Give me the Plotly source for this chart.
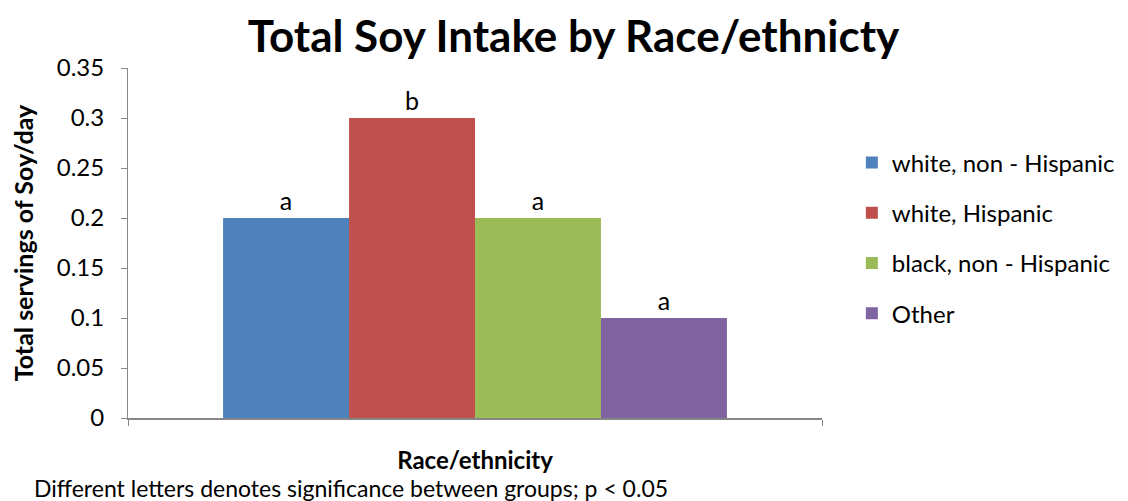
import plotly.graph_objects as go

categories = ["Race/ethnicity"]
groups = ["white, non - Hispanic", "white, Hispanic", "black, non - Hispanic", "Other"]
values = [0.2, 0.3, 0.2, 0.1]
letters = ["a", "b", "a", "a"]
colors = ["#4F81BD", "#C0504D", "#9BBB59", "#8064A2"]
y_ticks = [0, 0.05, 0.1, 0.15, 0.2, 0.25, 0.3, 0.35]
y_tick_labels = ["0", "0.05", "0.1", "0.15", "0.2", "0.25", "0.3", "0.35"]

FONT = "Lato, Carlito, 'Open Sans', sans-serif"

fig = go.Figure()
for i, g in enumerate(groups):
    fig.add_trace(go.Bar(
        x=categories, y=[values[i]], name=g,
        marker=dict(color=colors[i], line=dict(width=0)),
        text=[letters[i]], textposition="outside",
        textfont=dict(size=25, color="black", family=FONT),
        cliponaxis=False, legendgroup=g,
    ))

# page has an 8px body margin, so the figure is sized 8px smaller
fig.update_layout(
    width=1120, height=493,
    margin=dict(l=120, r=306, t=60, b=83, autoexpand=False),
    paper_bgcolor="white", plot_bgcolor="white",
    font=dict(family=FONT, color="black"),
    barmode="group", bargap=0.274, bargroupgap=0,
    title=dict(text="<b>Total Soy Intake by Race/ethnicty</b>",
               font=dict(size=44, family=FONT, color="black"),
               x=0.505, xanchor="center", y=0.941, yanchor="middle"),
    showlegend=True,
    legend=dict(x=1.043, xanchor="left", y=0.793, yanchor="top",
                font=dict(size=24, family=FONT, color="black"),
                tracegroupgap=16, itemwidth=30,
                bgcolor="rgba(0,0,0,0)"),
    xaxis=dict(showticklabels=False, showline=True, linecolor="#868686", linewidth=2,
               ticks="outside", tickson="boundaries", ticklen=6, tickcolor="#868686",
               showgrid=False, zeroline=False, automargin=False,
               title=dict(text="<b>Race/ethnicity</b>", font=dict(size=24, family=FONT), standoff=33)),
    yaxis=dict(range=[0, 0.35], tickvals=y_ticks, ticktext=y_tick_labels,
               showline=True, linecolor="#868686", linewidth=1,
               ticks="outside", ticklen=6, tickcolor="#868686", automargin=False,
               ticklabelstandoff=12,
               tickfont=dict(size=24, family=FONT), showgrid=False, zeroline=False,
               title=dict(text="<b>Total servings of Soy/day</b>", font=dict(size=25, family=FONT), standoff=20)),
)

fig.add_annotation(text="Different letters denotes significance between groups; p < 0.05",
                   xref="paper", yref="paper", x=-0.139, xanchor="left", y=-0.2, yanchor="middle",
                   showarrow=False, font=dict(size=23, family=FONT, color="black"))

fig.write_html("out.html")
